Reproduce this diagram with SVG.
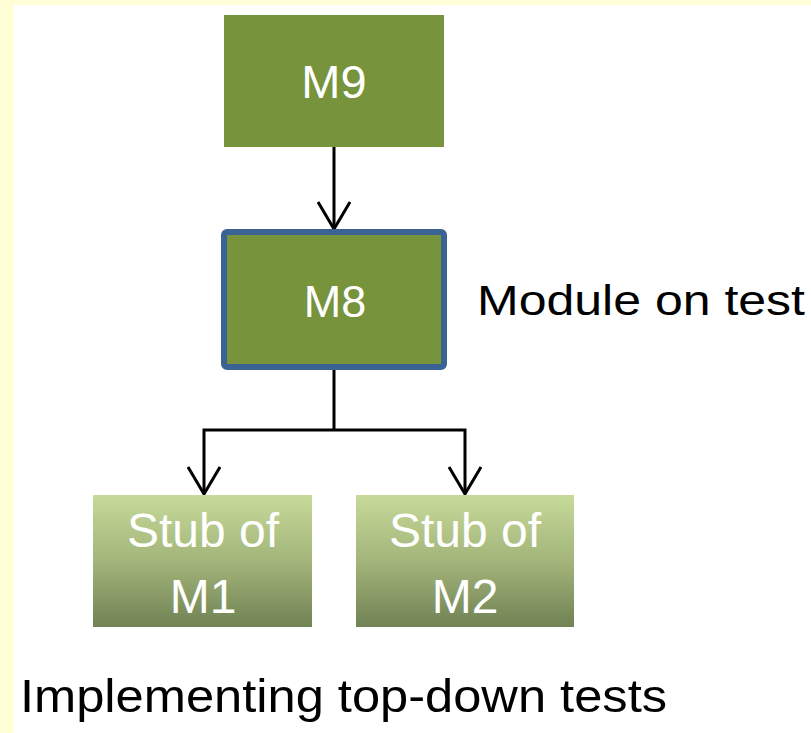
<svg xmlns="http://www.w3.org/2000/svg" width="811" height="733" viewBox="0 0 811 733">
  <defs>
    <linearGradient id="stubFill" x1="0" y1="0" x2="0" y2="1">
      <stop offset="0" stop-color="#c6da99"/>
      <stop offset="0.5" stop-color="#a3b57a"/>
      <stop offset="1" stop-color="#718254"/>
    </linearGradient>
    <!-- open V arrowhead, tip at the end of the path -->
    <marker id="openArrow" viewBox="0 0 30 34" refX="28" refY="17" markerWidth="30" markerHeight="34" markerUnits="userSpaceOnUse" orient="auto">
      <path d="M1,1 L28,17 L1,33" fill="none" stroke="#000" stroke-width="3" stroke-linejoin="miter"/>
    </marker>
    <style>
      .box { fill: #77933c; }
      .focus { fill: #77933c; stroke: #3a6292; stroke-width: 6; }
      .stub { fill: url(#stubFill); }
      .label { font-family: "Liberation Sans", Arial, sans-serif; fill: #ffffff; text-anchor: middle; }
      .caption { font-family: "Liberation Sans", Arial, sans-serif; fill: #000000; }
      .wire { fill: none; stroke: #000; stroke-width: 3; }
    </style>
  </defs>

  <!-- page frame -->
  <rect x="0" y="0" width="811" height="733" fill="#fffed6"/>
  <rect x="14" y="5" width="797" height="728" fill="#ffffff"/>

  <!-- connectors -->
  <g id="connectors">
    <path class="wire" d="M334,147 V229" marker-end="url(#openArrow)"/>
    <path class="wire" d="M334,370 V430"/>
    <path class="wire" d="M334,430 H204 V494" marker-end="url(#openArrow)"/>
    <path class="wire" d="M334,430 H465 V494" marker-end="url(#openArrow)"/>
  </g>

  <g id="m9">
    <rect class="box" x="224" y="15" width="220" height="132"/>
    <text class="label" x="334" y="98" font-size="47">M9</text>
  </g>

  <g id="m8">
    <rect class="focus" x="224" y="232" width="220" height="135" rx="3"/>
    <text class="label" x="335" y="317" font-size="45">M8</text>
  </g>

  <g id="stub-m1">
    <rect class="stub" x="93" y="495" width="219" height="132"/>
    <text class="label" x="203" y="547" font-size="48">Stub of</text>
    <text class="label" x="203" y="613" font-size="48">M1</text>
  </g>

  <g id="stub-m2">
    <rect class="stub" x="356" y="495" width="218" height="132"/>
    <text class="label" x="465" y="547" font-size="48">Stub of</text>
    <text class="label" x="465" y="613" font-size="48">M2</text>
  </g>

  <g id="module-note">
    <text class="caption" x="477" y="315" font-size="42" textLength="328" lengthAdjust="spacingAndGlyphs">Module on test</text>
  </g>

  <g id="title">
    <text class="caption" x="20" y="712" font-size="46" textLength="647" lengthAdjust="spacingAndGlyphs">Implementing top-down tests</text>
  </g>
</svg>
